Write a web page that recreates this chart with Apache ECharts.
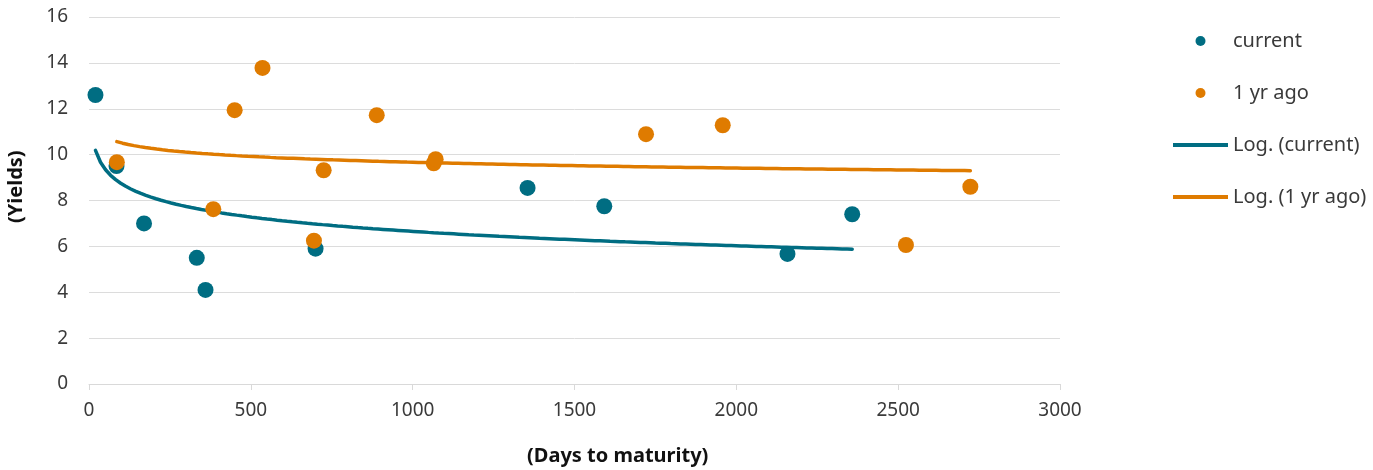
<!DOCTYPE html>
<html>
<head>
<meta charset="utf-8">
<script src="https://cdn.jsdelivr.net/npm/echarts@6/dist/echarts.min.js"></script>
<style>
  html, body { margin: 0; padding: 0; background: #fff; }
  #chart { width: 1373px; height: 470px; }
</style>
</head>
<body>
<div id="chart"></div>
<script>
// days to maturity / yields
const currentDays = [20, 85, 170, 333, 360, 700, 1355, 1592, 2158, 2358];
const currentYields = [12.6, 9.5, 7.0, 5.5, 4.1, 5.9, 8.55, 7.75, 5.67, 7.4];

const yearAgoDays = [86, 384, 450, 536, 695, 725, 889, 1065, 1071, 1721, 1958, 2524, 2723];
const yearAgoYields = [9.67, 7.62, 11.94, 13.78, 6.25, 9.32, 11.72, 9.62, 9.8, 10.89, 11.28, 6.06, 8.6];

const xTicks = [0, 500, 1000, 1500, 2000, 2500, 3000];
const yTicks = [0, 2, 4, 6, 8, 10, 12, 14, 16];

const TEAL = "#006d82";
const ORANGE = "#df7b00";
const FONT = "Noto Sans";
const LINE_ICON = "path://M0,0h55v4h-55z";

// least squares fit y = a + b*ln(x), like a spreadsheet log trendline
const logFit = (xs, ys) => {
  const lx = xs.map((x) => Math.log(x));
  const n = xs.length;
  const mx = lx.reduce((s, v) => s + v, 0) / n;
  const my = ys.reduce((s, v) => s + v, 0) / n;
  let sxy = 0, sxx = 0;
  lx.forEach((v, i) => {
    sxy += (v - mx) * (ys[i] - my);
    sxx += (v - mx) * (v - mx);
  });
  const b = sxy / sxx;
  const a = my - b * mx;
  const lo = Math.min(...xs), hi = Math.max(...xs);
  const pts = [];
  for (let i = 0; i <= 150; i++) {
    const x = lo + ((hi - lo) * i) / 150;
    pts.push([x, a + b * Math.log(x)]);
  }
  return pts;
};

const zip = (xs, ys) => xs.map((x, i) => [x, ys[i]]);

const chart = echarts.init(document.getElementById("chart"));

chart.setOption({
  animation: false,
  textStyle: { fontFamily: FONT },
  grid: { left: 89, right: 313, top: 17, bottom: 86 },
  legend: {
    orient: "vertical",
    left: 1173,
    top: 31,
    padding: 0,
    itemWidth: 55,
    itemHeight: 10,
    itemGap: 32,
    textStyle: { fontSize: 20, color: "#3a3a3a", fontFamily: FONT },
    data: [
      { name: "current", icon: "circle" },
      { name: "1 yr ago", icon: "circle" },
      { name: "Log. (current)", icon: LINE_ICON },
      { name: "Log. (1 yr ago)", icon: LINE_ICON },
    ],
  },
  xAxis: {
    type: "value",
    min: xTicks[0],
    max: xTicks[xTicks.length - 1],
    interval: 500,
    axisLine: { show: true, lineStyle: { color: "#d9d9d9", width: 1 } },
    axisTick: { show: true, length: 6, lineStyle: { color: "#d9d9d9" } },
    splitLine: { show: false },
    axisLabel: { color: "#3a3a3a", fontSize: 19, margin: 17, formatter: (v) => String(v) },
  },
  yAxis: {
    type: "value",
    min: yTicks[0],
    max: yTicks[yTicks.length - 1],
    interval: 2,
    axisLine: { show: false },
    axisTick: { show: false },
    splitLine: { lineStyle: { color: "#dcdcdc", width: 1 } },
    axisLabel: { color: "#3a3a3a", fontSize: 19, margin: 21 },
  },
  graphic: [
    {
      type: "text",
      left: 527,
      top: 446,
      style: { text: "(Days to maturity)", font: "bold 20px " + FONT, fill: "#111" },
    },
    {
      type: "text",
      x: 6,
      y: 223,
      rotation: Math.PI / 2,
      style: { text: "(Yields)", font: "bold 20px " + FONT, fill: "#111" },
    },
  ],
  series: [
    {
      name: "Log. (current)",
      type: "line",
      data: logFit(currentDays, currentYields),
      showSymbol: false,
      symbol: "none",
      lineStyle: { color: TEAL, width: 3.5, cap: "round" },
      itemStyle: { color: TEAL },
      z: 2,
    },
    {
      name: "Log. (1 yr ago)",
      type: "line",
      data: logFit(yearAgoDays, yearAgoYields),
      showSymbol: false,
      symbol: "none",
      lineStyle: { color: ORANGE, width: 3.5, cap: "round" },
      itemStyle: { color: ORANGE },
      z: 2,
    },
    {
      name: "current",
      type: "scatter",
      data: zip(currentDays, currentYields),
      symbolSize: 16,
      itemStyle: { color: TEAL, opacity: 1 },
      z: 3,
    },
    {
      name: "1 yr ago",
      type: "scatter",
      data: zip(yearAgoDays, yearAgoYields),
      symbolSize: 16,
      itemStyle: { color: ORANGE, opacity: 1 },
      z: 4,
    },
  ],
});
</script>
</body>
</html>
